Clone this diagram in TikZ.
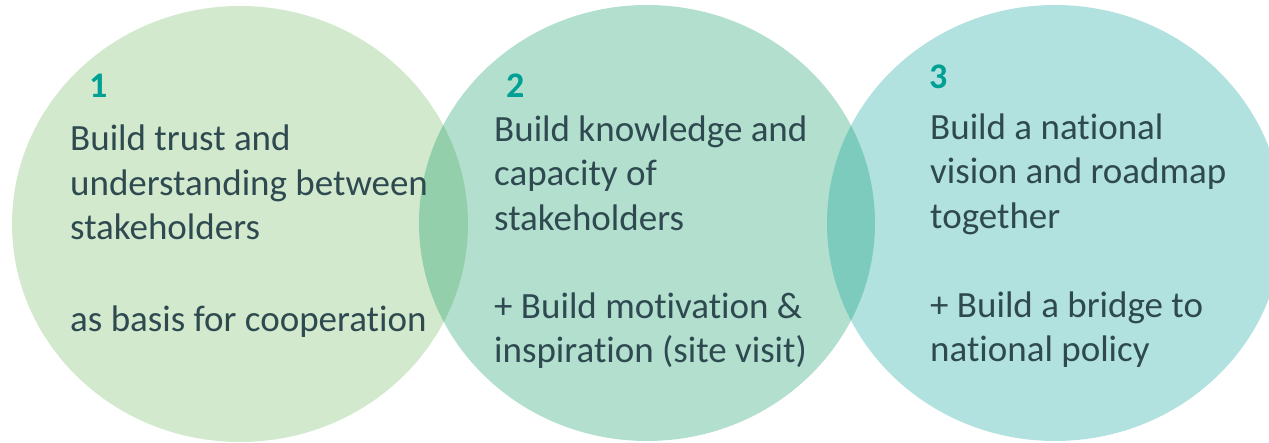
\documentclass[tikz,border=0pt]{standalone}
\usepackage{fontspec}
\setmainfont{Carlito}[Ligatures=NoCommon]
\usetikzlibrary{shapes.geometric,positioning}
\definecolor{venngreen}{RGB}{105,182,88}
\definecolor{vennmint}{RGB}{2,148,95}
\definecolor{vennteal}{RGB}{0,158,148}
\definecolor{venntext}{RGB}{46,74,80}
\definecolor{vennnum}{RGB}{0,160,148}
\tikzset{
  venn/.style  = {ellipse, minimum width=456pt, minimum height=436pt,
                  inner sep=0pt, fill opacity=0.3},
  % Text inside the circles (placed by the baseline of the last line)
  vtext/.style = {anchor=base west, align=left, inner sep=0pt,
                  text=venntext, font=\fontsize{37}{44.5}\selectfont},
  vnum/.style  = {anchor=base west, inner sep=0pt,
                  text=vennnum, font=\fontsize{36}{40}\selectfont\bfseries},
}
\begin{document}
\begin{tikzpicture}[x=1pt,y=-1pt]
\useasboundingbox (0,0) rectangle (1269,443);
\node[venn, fill=venngreen] (c1) at ( 240,224) {};
\node[venn, fill=vennmint]  (c2) at ( 647,223) {};
\node[venn, fill=vennteal]  (c3) at (1055,223) {};

\node[vnum] (n1) at (89,98) {1};
\node[vtext] (t1) at (70,332) {Build trust and\\understanding between\\stakeholders\\[47.5pt]as basis for cooperation};

\node[vnum] (n2) at (506,98) {2};
\node[vtext] (t2) at (494,363) {Build knowledge and\\capacity of\\stakeholders\\[43.5pt]+ Build motivation \&\\inspiration (site visit)};

\node[vnum] (n3) at (929,89) {3};
\node[vtext] (t3) at (930,362) {Build a national\\vision and roadmap\\together\\[44.5pt]+ Build a bridge to\\national policy};
\end{tikzpicture}
\end{document}
